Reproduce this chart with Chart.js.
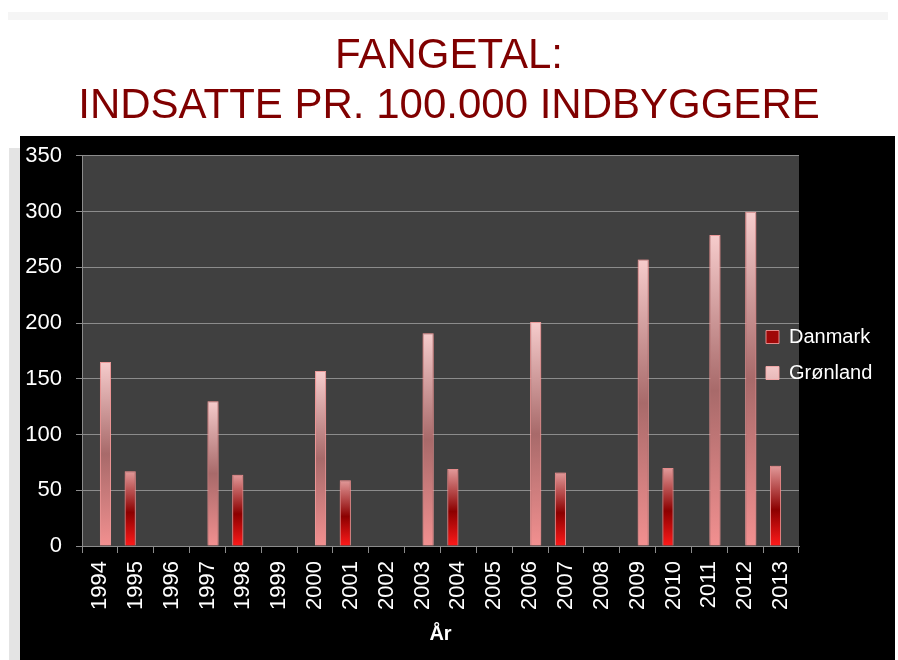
<!DOCTYPE html>
<html lang="da">
<head>
    <meta charset="UTF-8">
    <title>Fangetal</title>
    <script src="https://cdn.jsdelivr.net/npm/chart.js"></script>
    <style>
        body {
            margin: 0;
            padding: 0;
            background: #ffffff;
        }
        canvas { display: block; }
    </style>
</head>
<body>
    <canvas id="fangeChart" width="898" height="660"></canvas>

    <script>
        // Data
        const years = ["1994","1995","1996","1997","1998","1999","2000","2001","2002","2003",
                       "2004","2005","2006","2007","2008","2009","2010","2011","2012","2013"];
        const danmark = [null, 67, null, null, 64, null, null, 59, null, null,
                         69, null, null, 66, null, null, 70, null, null, 72];
        const groenland = [165, null, null, 130, null, null, 157, null, null, 191,
                           null, null, 201, null, null, 257, null, 279, 300, null];
        const titleLines = ["FANGETAL:", "INDSATTE PR. 100.000 INDBYGGERE"];

        const FONT = "'Liberation Sans', Arial, sans-serif";

        // vertical gradient for each bar, from its top to the zero line
        function barFill(stops, solid) {
            return function (ctx) {
                if (ctx.type !== 'data' || ctx.raw == null) return solid;
                const chart = ctx.chart;
                const y = chart.scales.y;
                const top = y.getPixelForValue(ctx.raw);
                const base = y.getPixelForValue(0);
                if (!isFinite(top) || !isFinite(base)) return solid;
                const g = chart.ctx.createLinearGradient(0, top, 0, base);
                stops.forEach(s => g.addColorStop(s[0], s[1]));
                return g;
            };
        }

        // slide background + dark plot area
        const backdrop = {
            id: 'backdrop',
            beforeDraw(chart) {
                const c = chart.ctx;
                const a = chart.chartArea;
                c.save();
                c.fillStyle = '#ffffff';
                c.fillRect(0, 0, chart.width, chart.height);
                c.fillStyle = '#f5f5f5';
                c.fillRect(8, 12, 880, 8);
                c.fillStyle = '#e4e4e4';
                c.fillRect(9, 148, 11, chart.height - 148);
                c.fillStyle = '#000000';
                c.fillRect(20, 136, 875, chart.height - 136);
                c.fillStyle = '#404040';
                c.fillRect(a.left, a.top, a.right - a.left, a.bottom - a.top);
                c.restore();
            }
        };

        // soft glow round the bars
        const glow = {
            id: 'glow',
            beforeDatasetsDraw(chart) {
                chart.ctx.save();
                chart.ctx.shadowColor = 'rgba(255, 130, 130, 0.7)';
                chart.ctx.shadowBlur = 8;
            },
            afterDatasetsDraw(chart) {
                chart.ctx.restore();
            }
        };

        // legend sits over the right edge of the plot, like in the original
        const legendShift = {
            id: 'legendShift',
            afterLayout(chart) {
                const lg = chart.legend;
                if (!lg) return;
                lg.left -= 49;
                lg.width = 148;
                lg.right = lg.left + lg.width;
                lg.top += 25;
                lg.bottom += 25;
            }
        };

        new Chart(document.getElementById('fangeChart'), {
            type: 'bar',
            data: {
                labels: years,
                datasets: [{
                    label: 'Danmark',
                    data: danmark,
                    backgroundColor: barFill([[0, '#e29a9a'], [0.55, '#8c0000'], [1, '#ff1a1a']], '#a00808'),
                    borderColor: 'rgba(240, 150, 150, 0.9)',
                    borderWidth: 1
                }, {
                    label: 'Grønland',
                    data: groenland,
                    backgroundColor: barFill([[0, '#f6cccc'], [0.5, '#a86a6a'], [1, '#f29090']], '#b86868'),
                    borderColor: 'rgba(250, 170, 170, 0.9)',
                    borderWidth: 1
                }]
            },
            options: {
                responsive: false,
                devicePixelRatio: 1,
                animation: false,
                layout: {
                    padding: { left: 0, right: 0, top: 0, bottom: 0 }
                },
                datasets: {
                    bar: {
                        barPercentage: 1,
                        categoryPercentage: 0.62,
                        grouped: true
                    }
                },
                plugins: {
                    title: {
                        display: true,
                        text: titleLines,
                        color: '#800000',
                        font: { family: FONT, size: 42, weight: 'normal', lineHeight: 1.19 },
                        padding: { top: 31, bottom: 25 }
                    },
                    legend: {
                        position: 'right',
                        maxWidth: 99,
                        labels: {
                            color: '#ffffff',
                            font: { family: FONT, size: 20 },
                            boxWidth: 13,
                            boxHeight: 13,
                            padding: 16
                        }
                    },
                    tooltip: { enabled: false }
                },
                scales: {
                    x: {
                        afterFit(scale) { scale.height = 114; },
                        grid: {
                            drawOnChartArea: false,
                            drawTicks: true,
                            tickLength: 7,
                            color: '#8c8c8c'
                        },
                        border: { color: '#8c8c8c' },
                        ticks: {
                            color: '#ffffff',
                            font: { family: FONT, size: 22 },
                            minRotation: 90,
                            maxRotation: 90,
                            autoSkip: false,
                            padding: 8
                        },
                        title: {
                            display: true,
                            text: 'År',
                            color: '#ffffff',
                            font: { family: FONT, size: 20, weight: 'bold' },
                            padding: { top: 0, bottom: 14 }
                        }
                    },
                    y: {
                        min: 0,
                        max: 350,
                        afterFit(scale) { scale.width = 82; },
                        grid: {
                            color: '#8c8c8c',
                            tickLength: 6
                        },
                        border: { color: '#8c8c8c' },
                        ticks: {
                            stepSize: 50,
                            color: '#ffffff',
                            font: { family: FONT, size: 22 },
                            padding: 14
                        }
                    }
                }
            },
            plugins: [backdrop, glow, legendShift]
        });
    </script>
</body>
</html>
